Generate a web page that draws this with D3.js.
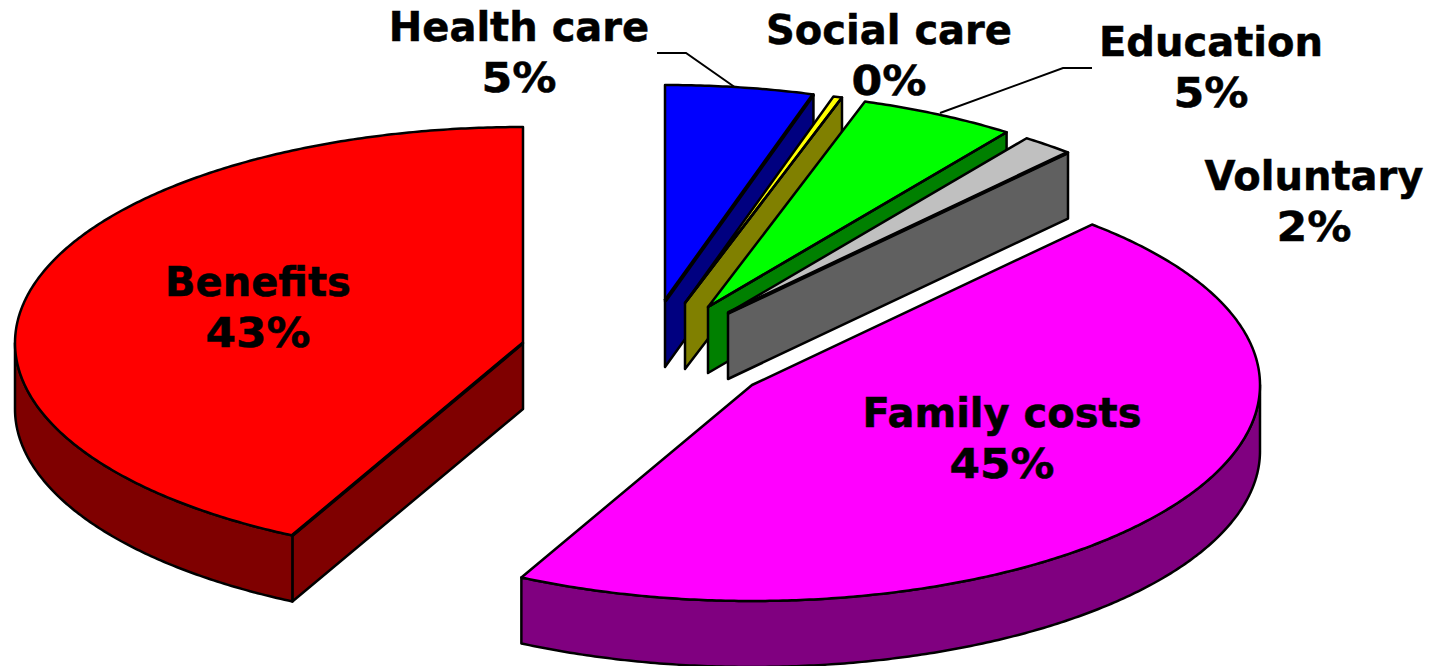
<!DOCTYPE html>
<html>
<head>
<meta charset="utf-8">
<title>Costs pie</title>
<script src="https://cdnjs.cloudflare.com/ajax/libs/d3/7.8.5/d3.min.js"></script>
<style>
    html, body { margin: 0; padding: 0; background: #fff; overflow: hidden; }
    svg { display: block; }
    .lbl { font-family: "DejaVu Sans", Verdana, sans-serif; font-weight: bold; font-size: 40px; fill: #000; stroke: #000; stroke-width: 0.5px; text-anchor: middle; }
</style>
</head>
<body>
<div id="chart"></div>
<script>
// data, in drawing order of the pie (clockwise from 12 o'clock)
var categories = ["Health care", "Social care", "Education", "Voluntary", "Family costs", "Benefits"];
var shares = [4.72, 0.28, 5.0, 1.67, 45.83, 42.5]; // share of the circle, read from the slice edges
var pctLabels = ["5%", "0%", "5%", "2%", "45%", "43%"]; // as printed on the picture

var topColors = ["#0000ff", "#ffff00", "#00ff00", "#c0c0c0", "#ff00ff", "#ff0000"];
var sideColors = ["#000080", "#808000", "#008000", "#606060", "#800080", "#7f0000"];

var w = 1437, h = 666;
var rx = 508, ry = 216, depth = 66;
var cx = 654, cy = 356;

// how far each slice is pulled out of the pie
var explodeX = [11, 31, 54, 74, 98, -131];
var explodeY = [-55, -53, -49, -43, 29, -13];

// heavier line where the top meets a cut face
var edgeWidth = [4, 2.5, 2.5, 4, 2.5, 3.5];

// label anchors (middle of text, baseline of first line)
var labelX = [519, 889, 1211, 1314, 1002, 258];
var labelY = [41, 44, 56, 190, 427, 296];

var svg = d3.select("#chart").append("svg")
    .attr("width", w)
    .attr("height", h);

var pie = d3.pie().sort(null).startAngle(0).endAngle(2 * Math.PI);
var arcs = pie(shares);

var line = d3.line();
var STEP = Math.PI / 360;

function pt(a, i, dy) {
    return [cx + explodeX[i] + rx * Math.sin(a), cy + explodeY[i] + (dy || 0) - ry * Math.cos(a)];
}

function arcPoints(a0, a1, i, dy) {
    var pts = d3.range(a0, a1, STEP).map(function(a) { return pt(a, i, dy); });
    pts.push(pt(a1, i, dy));
    return pts;
}

function apex(i, dy) {
    return [cx + explodeX[i], cy + explodeY[i] + (dy || 0)];
}

function drawSlice(g, d, i) {
    var top = [apex(i)].concat(arcPoints(d.startAngle, d.endAngle, i));
    var side = { fill: sideColors[i], stroke: "#000", "stroke-width": 2.5, "stroke-linejoin": "round" };
    var cutAngle = null;

    function addSide(pts) {
        var p = g.append("path").attr("d", line(pts) + "Z");
        Object.keys(side).forEach(function(k) { p.attr(k, side[k]); });
    }

    // cut face on the end edge, faces the viewer when the edge points right
    if (d.endAngle < Math.PI) {
        cutAngle = d.endAngle;
    }
    // cut face on the start edge, faces the viewer when the edge points left
    if (d.startAngle > Math.PI) {
        cutAngle = d.startAngle;
    }
    if (cutAngle !== null) {
        addSide([apex(i), pt(cutAngle, i), pt(cutAngle, i, depth), apex(i, depth)]);
    }
    // outer rim, only the front half of the ellipse shows
    var r0 = Math.max(d.startAngle, Math.PI / 2), r1 = Math.min(d.endAngle, 3 * Math.PI / 2);
    if (r0 < r1) {
        addSide(arcPoints(r0, r1, i).concat(arcPoints(r0, r1, i, depth).reverse()));
    }

    g.append("path")
        .attr("d", line(top) + "Z")
        .attr("fill", topColors[i])
        .attr("stroke", "#000")
        .attr("stroke-width", 2.5)
        .attr("stroke-linejoin", "round");

    if (cutAngle !== null) {
        g.append("path")
            .attr("d", line([apex(i), pt(cutAngle, i)]))
            .attr("fill", "none")
            .attr("stroke", "#000")
            .attr("stroke-width", edgeWidth[i]);
    }
}

//Draw leader lines
svg.append("path")
    .attr("d", line([[657, 53], [686, 53], [736, 88]]))
    .attr("fill", "none").attr("stroke", "#000").attr("stroke-width", 2);
svg.append("path")
    .attr("d", line([[1092, 68], [1063, 68], [940, 113]]))
    .attr("fill", "none").attr("stroke", "#000").attr("stroke-width", 2);

//Draw slices
var slices = svg.selectAll(".slice")
    .data(arcs)
    .enter().append("g")
    .attr("class", "slice")
    .each(function(d, i) { drawSlice(d3.select(this), d, i); });

//Draw labels
var labels = svg.selectAll(".lbl-group")
    .data(categories)
    .enter().append("g")
    .attr("class", "lbl-group");

labels.append("text")
    .attr("class", "lbl")
    .attr("x", function(d, i) { return labelX[i]; })
    .attr("y", function(d, i) { return labelY[i]; })
    .text(function(d) { return d; });

// the percent sign is wider in the original font, so stretch to its width
labels.append("text")
    .attr("class", "lbl")
    .attr("x", function(d, i) { return labelX[i]; })
    .attr("y", function(d, i) { return labelY[i] + 51; })
    .attr("textLength", function(d, i) { return pctLabels[i].length > 2 ? 105 : 75; })
    .attr("lengthAdjust", "spacingAndGlyphs")
    .text(function(d, i) { return pctLabels[i]; });
</script>
</body>
</html>
